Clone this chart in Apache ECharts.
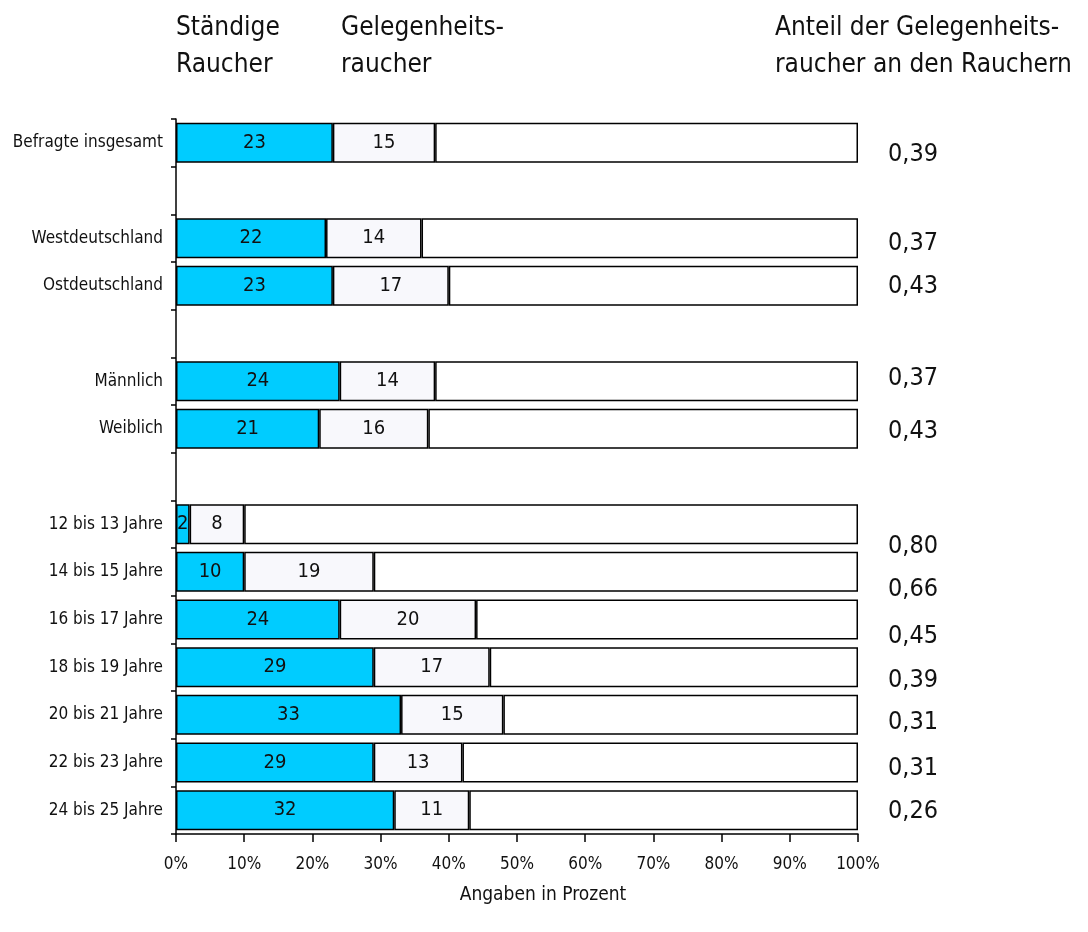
<!DOCTYPE html>
<html><head><meta charset="utf-8">
<script src="https://cdn.jsdelivr.net/npm/echarts@6/dist/echarts.min.js"></script>
<style>html,body{margin:0;padding:0;background:#fff}#c{width:1088px;height:932px}</style>
</head><body><div id="c"></div>
<script>
// ---- data ----
const categories = ['Befragte insgesamt', '', 'Westdeutschland', 'Ostdeutschland', '', 'Männlich', 'Weiblich', '',
  '12 bis 13 Jahre', '14 bis 15 Jahre', '16 bis 17 Jahre', '18 bis 19 Jahre', '20 bis 21 Jahre', '22 bis 23 Jahre', '24 bis 25 Jahre'];
const staendigeRaucher = [23, null, 22, 23, null, 24, 21, null, 2, 10, 24, 29, 33, 29, 32];
const gelegenheitsRaucher = [15, null, 14, 17, null, 14, 16, null, 8, 19, 20, 17, 15, 13, 11];
const anteilGelegenheits = ['0,39', null, '0,37', '0,43', null, '0,37', '0,43', null, '0,80', '0,66', '0,45', '0,39', '0,31', '0,31', '0,26'];
const xTickLabels = ['0%', '10%', '20%', '30%', '40%', '50%', '60%', '70%', '80%', '90%', '100%'];

// ---- layout nudges for the ratio texts (pixels, vertical) ----
const ratioShift = [12, 0, 5, 1, 0, -3, 3, 0, 22, 18, 17, 13, 8, 6, 1];

const FONT = '"DejaVu Sans Condensed", "Liberation Sans Narrow", "Noto Sans", sans-serif';
const rest = staendigeRaucher.map((v, i) => v == null ? null : 100 - v - gelegenheitsRaucher[i]);

const chart = echarts.init(document.getElementById('c'), null, {renderer: 'canvas'});
const border = {borderColor: '#000', borderWidth: 1.5};
chart.setOption({
  animation: false,
  backgroundColor: '#fff',
  textStyle: {fontFamily: FONT},
  grid: {left: 176, right: 230, top: 119, bottom: 98, containLabel: false},
  xAxis: {
    type: 'value', min: 0, max: 100, interval: 10,
    axisLine: {show: true, lineStyle: {color: '#000', width: 1.5}},
    axisTick: {show: true, length: 8, lineStyle: {color: '#000', width: 1.5}},
    splitLine: {show: false},
    axisLabel: {color: '#111', fontSize: 17, fontFamily: FONT, margin: 22,
      formatter: (v) => xTickLabels[Math.round(v / 10)]},
    name: 'Angaben in Prozent', nameLocation: 'middle', nameGap: 52,
    nameTextStyle: {color: '#111', fontSize: 19, fontFamily: FONT, padding: [0, 0, 0, 52]}
  },
  yAxis: {
    type: 'category', data: categories, inverse: true,
    axisLine: {show: true, lineStyle: {color: '#000', width: 1.5}},
    axisTick: {show: true, length: 5, lineStyle: {color: '#000', width: 1.5}},
    axisLabel: {color: '#111', fontSize: 17, fontFamily: FONT, margin: 13}
  },
  series: [
    {type: 'bar', stack: 's', data: staendigeRaucher, barCategoryGap: '16%',
      itemStyle: Object.assign({color: '#00CCFF'}, border),
      label: {show: true, position: 'inside', color: '#111', fontSize: 20, fontFamily: FONT}},
    {type: 'bar', stack: 's', data: gelegenheitsRaucher,
      itemStyle: Object.assign({color: '#F8F8FC'}, border),
      label: {show: true, position: 'inside', color: '#111', fontSize: 20, fontFamily: FONT}},
    {type: 'bar', stack: 's', data: rest.map((v, i) => ({value: v,
        label: {offset: [0, ratioShift[i]]}})),
      itemStyle: Object.assign({color: '#fff'}, border),
      label: {show: true, position: 'right', distance: 30, color: '#111', fontSize: 25, fontFamily: FONT,
        formatter: (p) => anteilGelegenheits[p.dataIndex] || ''}}
  ],
  graphic: [
    {type: 'text', left: 176, top: 10, style: {text: 'Ständige\nRaucher', font: '26px ' + FONT, fill: '#111', lineHeight: 37}},
    {type: 'text', left: 341, top: 10, style: {text: 'Gelegenheits-\nraucher', font: '26px ' + FONT, fill: '#111', lineHeight: 37}},
    {type: 'text', left: 775, top: 10, style: {text: 'Anteil der Gelegenheits-\nraucher an den Rauchern', font: '26px ' + FONT, fill: '#111', lineHeight: 37}}
  ]
});
</script></body></html>
